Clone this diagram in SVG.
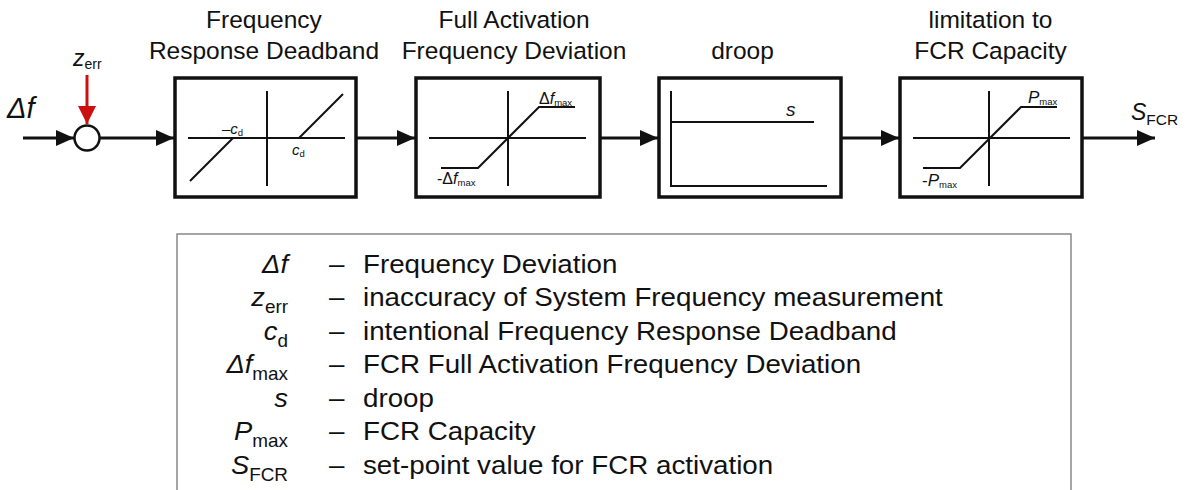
<svg xmlns="http://www.w3.org/2000/svg" width="1187" height="490" viewBox="0 0 1187 490">
<style>
text{font-family:"Liberation Sans",Arial,sans-serif;fill:#111}
.title{font-size:24.5px;text-anchor:middle}
.box{fill:#fff;stroke:#111;stroke-width:3.5}
.ax{stroke:#111;stroke-width:2;fill:none}
.conn{stroke:#111;stroke-width:3;fill:none}
.it{font-style:italic}
.sm{font-size:15px}
.sub{font-size:9.5px}
.leg{font-size:25px}
.lsym{font-size:26px;font-style:italic}
.lsub{font-size:18px;font-style:normal}
</style>
<defs>
<marker id="ah" markerUnits="userSpaceOnUse" markerWidth="19" markerHeight="17" refX="18" refY="8" orient="auto"><path d="M0,0 L18,8 L0,16 z" fill="#111"/></marker>
<marker id="ahr" markerUnits="userSpaceOnUse" markerWidth="19" markerHeight="19" refX="18" refY="9" orient="auto"><path d="M0,0 L18,9 L0,18 z" fill="#cc1010"/></marker>
</defs>

<g id="input">
<text x="7" y="118" class="it" font-size="29">Δf</text>
</g>
<g id="zerr">
<text x="73" y="66" class="it" font-size="23">z<tspan font-size="14" font-style="normal" dy="3">err</tspan></text>
</g>
<g id="sum">
<circle cx="87" cy="138" r="12.5" fill="#fff" stroke="#111" stroke-width="2.5"/>
</g>

<g id="deadband">
<text class="title" x="264" y="28">Frequency</text>
<text class="title" x="264" y="59">Response Deadband</text>
<rect class="box" x="175" y="78" width="181" height="119"/>
<path class="ax" d="M188,138 H345 M267,91 V186 M190,181 L233,138 M299,138 L343,94"/>
<text x="222" y="134" class="sm">–<tspan class="it">c</tspan><tspan class="sub" dy="2">d</tspan></text>
<text x="292" y="155" class="sm it">c<tspan class="sub" font-style="normal" dy="2">d</tspan></text>
</g>

<g id="fullact">
<text class="title" x="514" y="28">Full Activation</text>
<text class="title" x="514" y="59">Frequency Deviation</text>
<rect class="box" x="416" y="78" width="184" height="119"/>
<path class="ax" d="M429,138 H586 M508,91 V186 M441,168 H478 L539,107 H575"/>
<text x="539" y="104" font-size="16">Δ<tspan class="it">f</tspan><tspan class="sub" dy="2">max</tspan></text>
<text x="437" y="184" font-size="16">-Δ<tspan class="it">f</tspan><tspan class="sub" dy="2">max</tspan></text>
</g>

<g id="droop">
<text class="title" x="742.5" y="59">droop</text>
<rect class="box" x="659" y="78" width="182" height="119"/>
<path class="ax" d="M671,91 V186 H827 M671,122 H814"/>
<text x="786" y="116" class="it" font-size="19">s</text>
</g>

<g id="limit">
<text class="title" x="990.5" y="28">limitation to</text>
<text class="title" x="990.5" y="59">FCR Capacity</text>
<rect class="box" x="900" y="78" width="182" height="119"/>
<path class="ax" d="M913,138 H1070 M989,91 V186 M923,168 H960 L1021,107 H1057"/>
<text x="1028" y="103" class="it" font-size="17">P<tspan class="sub" font-style="normal" dy="2">max</tspan></text>
<text x="922" y="186" font-size="17">-<tspan class="it">P</tspan><tspan class="sub" dy="2">max</tspan></text>
</g>

<g id="output">
<text x="1131" y="120" class="it" font-size="23">S<tspan font-size="15.5" font-style="normal" dy="5">FCR</tspan></text>
</g>

<g id="connectors">
<line class="conn" x1="23" y1="138" x2="74" y2="138" marker-end="url(#ah)"/>
<line class="conn" x1="100" y1="138" x2="174" y2="138" marker-end="url(#ah)"/>
<line class="conn" x1="357" y1="138" x2="415" y2="138" marker-end="url(#ah)"/>
<line class="conn" x1="601" y1="138" x2="658" y2="138" marker-end="url(#ah)"/>
<line class="conn" x1="842" y1="138" x2="899" y2="138" marker-end="url(#ah)"/>
<line class="conn" x1="1083" y1="138" x2="1155" y2="138" marker-end="url(#ah)"/>
<line x1="87" y1="75" x2="87" y2="124" stroke="#cc1010" stroke-width="3" marker-end="url(#ahr)"/>
</g>

<g id="legend">
<rect x="177" y="234" width="894" height="270" fill="#fff" stroke="#888" stroke-width="1.5"/>
<g transform="translate(288,0) scale(1.05,1)">
<text x="0" y="273" class="lsym" text-anchor="end">Δf</text>
<text x="0" y="306.5" class="lsym" text-anchor="end">z<tspan class="lsub" dy="7">err</tspan></text>
<text x="0" y="340" class="lsym" text-anchor="end">c<tspan class="lsub" dy="7">d</tspan></text>
<text x="0" y="373.5" class="lsym" text-anchor="end">Δf<tspan class="lsub" dy="7">max</tspan></text>
<text x="0" y="407" class="lsym" text-anchor="end">s</text>
<text x="0" y="440.5" class="lsym" text-anchor="end">P<tspan class="lsub" dy="7">max</tspan></text>
<text x="0" y="474" class="lsym" text-anchor="end">S<tspan class="lsub" dy="7">FCR</tspan></text>
</g>
<g transform="translate(329,0) scale(1.11,1)">
<text x="0" y="273" class="leg">–</text>
<text x="0" y="306.5" class="leg">–</text>
<text x="0" y="340" class="leg">–</text>
<text x="0" y="373.5" class="leg">–</text>
<text x="0" y="407" class="leg">–</text>
<text x="0" y="440.5" class="leg">–</text>
<text x="0" y="474" class="leg">–</text>
</g>
<g transform="translate(363,0) scale(1.11,1)">
<text x="0" y="273" class="leg">Frequency Deviation</text>
<text x="0" y="306.5" class="leg">inaccuracy of System Frequency measurement</text>
<text x="0" y="340" class="leg">intentional Frequency Response Deadband</text>
<text x="0" y="373.5" class="leg">FCR Full Activation Frequency Deviation</text>
<text x="0" y="407" class="leg">droop</text>
<text x="0" y="440.5" class="leg">FCR Capacity</text>
<text x="0" y="474" class="leg">set-point value for FCR activation</text>
</g>
</g>
</svg>
